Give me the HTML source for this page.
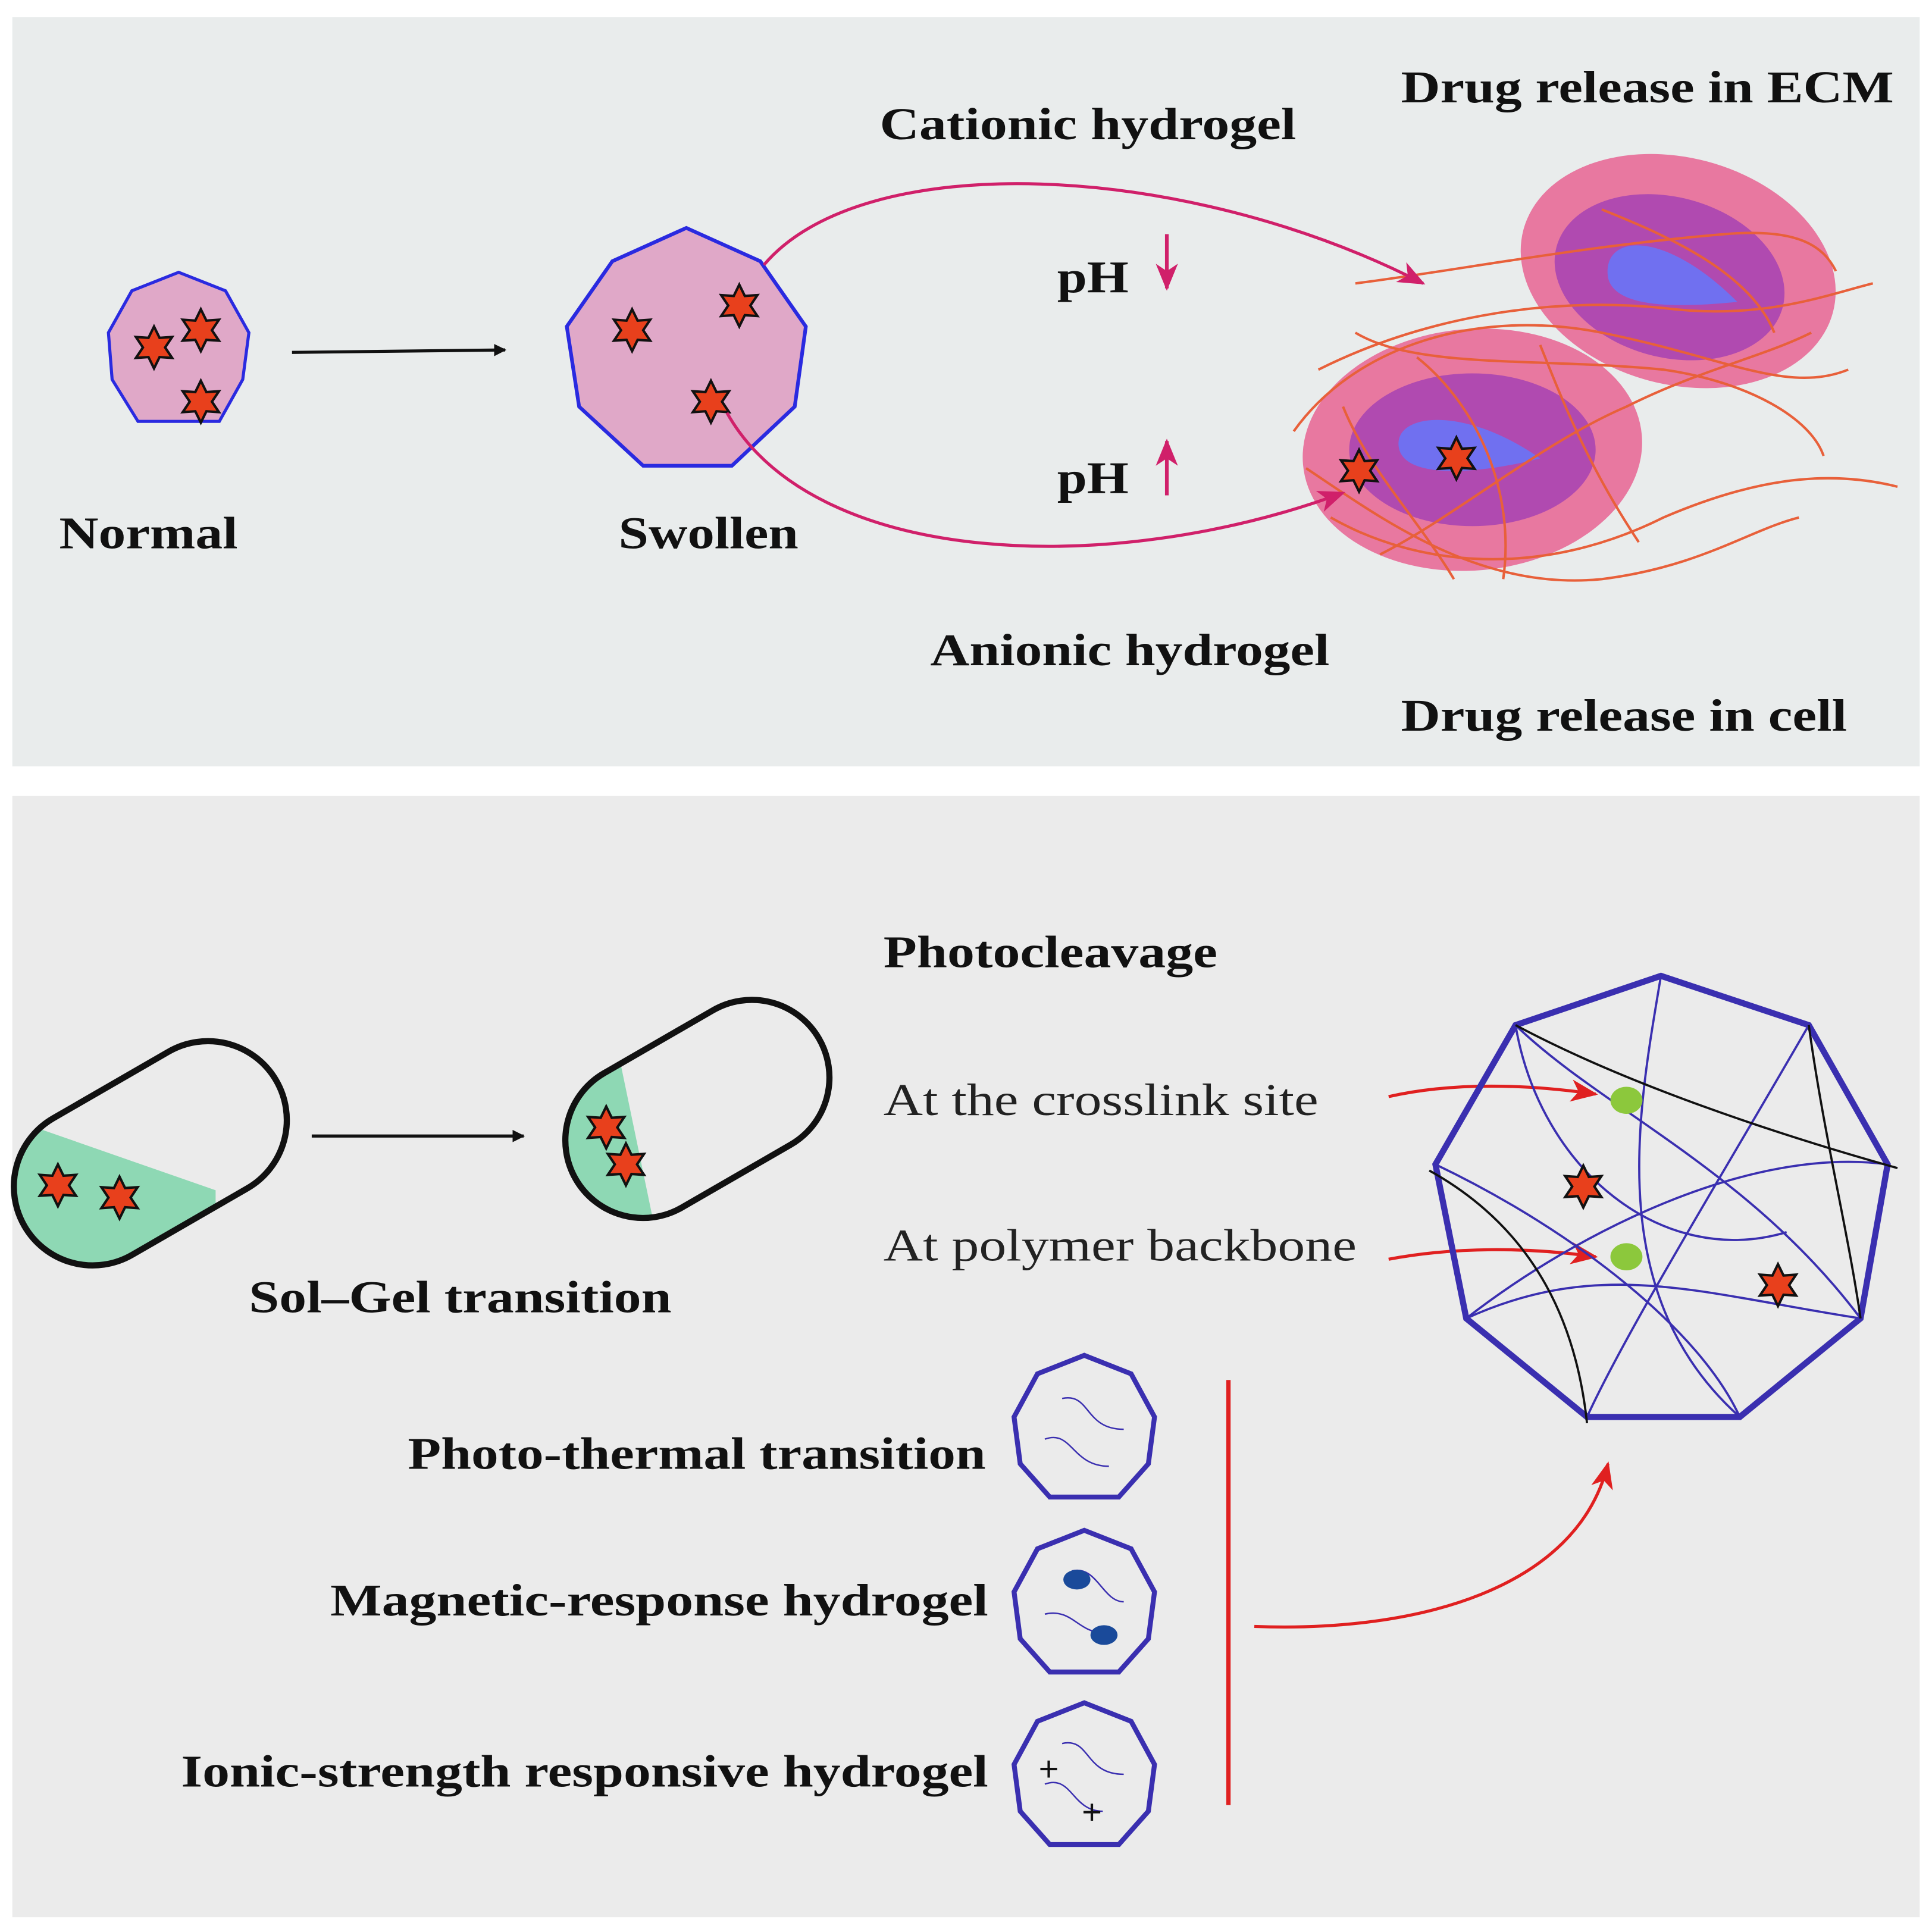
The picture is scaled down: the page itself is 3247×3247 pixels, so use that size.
<!DOCTYPE html>
<html><head><meta charset="utf-8"><style>html,body{margin:0;padding:0;background:#fff}svg{display:block}
.b{font-family:"Liberation Serif",serif;font-weight:bold;font-size:37px;fill:#111}
.n{font-family:"Liberation Serif",serif;font-size:37px;fill:#222}</style></head><body>
<svg width="3247" height="3247" viewBox="0 0 1568 1568" xmlns="http://www.w3.org/2000/svg">
<defs>
<symbol id="st" viewBox="-20 -20 40 40" overflow="visible">
<polygon points="0,-17 4.5,-7.8 14.7,-8.5 9,0 14.7,8.5 4.5,7.8 0,17 -4.5,7.8 -14.7,8.5 -9,0 -14.7,-8.5 -4.5,-7.8" fill="#e8401c" stroke="#111" stroke-width="2"/>
</symbol>
<marker id="ab" markerWidth="10" markerHeight="10" refX="9" refY="5" orient="auto" markerUnits="userSpaceOnUse" viewBox="0 0 10 10"><path d="M0,0L10,5L0,10z" fill="#111"/></marker>
<marker id="am" markerWidth="22" markerHeight="18" refX="20" refY="9" orient="auto" markerUnits="userSpaceOnUse"><path d="M0,0L22,9L0,18L6,9z" fill="#d0206a"/></marker>
<marker id="ar" markerWidth="22" markerHeight="18" refX="20" refY="9" orient="auto" markerUnits="userSpaceOnUse"><path d="M0,0L22,9L0,18L6,9z" fill="#e02020"/></marker>
<clipPath id="c1" clipPathUnits="userSpaceOnUse"><rect x="4" y="872" width="236" height="128" rx="64" transform="rotate(-30 122 936)"/></clipPath>
<clipPath id="c2" clipPathUnits="userSpaceOnUse"><rect x="452" y="837" width="228" height="126" rx="63" transform="rotate(-30 566 900)"/></clipPath>
</defs>
<rect x="10" y="14" width="1548" height="608" fill="#e9ecec"/>
<rect x="10" y="646" width="1548" height="910" fill="#ebebeb"/>

<!-- top -->
<polygon points="145,221 183,236 202,270 197,308 178,342 112,342 91,308 88,270 107,236" fill="#e0a8c8" stroke="#2a2ae0" stroke-width="2.5"/>
<use href="#st" x="105" y="262" width="40" height="40"/>
<use href="#st" x="143" y="248" width="40" height="40"/>
<use href="#st" x="143" y="306" width="40" height="40"/>
<line x1="237" y1="286" x2="410" y2="284" stroke="#111" stroke-width="2.5" marker-end="url(#ab)"/>
<polygon points="557,185 617,212 654,265 645,330 594,378 522,378 470,330 460,265 497,212" fill="#e0a8c8" stroke="#2a2ae0" stroke-width="3"/>
<use href="#st" x="493" y="248" width="40" height="40"/>
<use href="#st" x="580" y="228" width="40" height="40"/>
<use href="#st" x="557" y="306" width="40" height="40"/>
<text class="b" x="48" y="445" textLength="145" lengthAdjust="spacingAndGlyphs">Normal</text>
<text class="b" x="502" y="445" textLength="146" lengthAdjust="spacingAndGlyphs">Swollen</text>
<text class="b" x="714" y="113" textLength="338" lengthAdjust="spacingAndGlyphs">Cationic hydrogel</text>
<text class="b" x="1137" y="83" textLength="400" lengthAdjust="spacingAndGlyphs">Drug release in ECM</text>
<text class="b" x="858" y="237" textLength="58" lengthAdjust="spacingAndGlyphs">pH</text>
<text class="b" x="858" y="400" textLength="58" lengthAdjust="spacingAndGlyphs">pH</text>
<text class="b" x="755" y="540" textLength="324" lengthAdjust="spacingAndGlyphs">Anionic hydrogel</text>
<text class="b" x="1137" y="593" textLength="362" lengthAdjust="spacingAndGlyphs">Drug release in cell</text>
<line x1="947" y1="190" x2="947" y2="234" stroke="#d0206a" stroke-width="3" marker-end="url(#am)"/>
<line x1="947" y1="402" x2="947" y2="358" stroke="#d0206a" stroke-width="3" marker-end="url(#am)"/>
<!-- cells -->
<ellipse cx="1362" cy="220" rx="130" ry="92" fill="#e878a0" transform="rotate(15 1362 220)"/>
<ellipse cx="1355" cy="225" rx="95" ry="65" fill="#b04ab0" transform="rotate(15 1355 225)"/>
<path d="M1305,225 C1300,190 1350,185 1410,245 C1360,250 1310,250 1305,225z" fill="#7070f0"/>
<ellipse cx="1195" cy="365" rx="138" ry="98" fill="#e878a0" transform="rotate(-5 1195 365)"/>
<ellipse cx="1195" cy="365" rx="100" ry="62" fill="#b04ab0"/>
<path d="M1135,360 C1135,335 1190,330 1250,372 C1200,385 1135,390 1135,360z" fill="#7070f0"/>
<g fill="none" stroke="#e8603a" stroke-width="2">
<path d="M1050,350 C1100,280 1200,250 1300,270 C1400,290 1450,320 1500,300"/>
<path d="M1070,300 C1150,260 1250,240 1350,250 C1430,260 1480,240 1520,230"/>
<path d="M1100,230 C1180,220 1280,200 1400,190 C1460,185 1480,200 1490,220"/>
<path d="M1080,420 C1150,460 1250,470 1350,420 C1420,390 1480,380 1540,395"/>
<path d="M1060,380 C1120,420 1200,480 1300,470 C1380,460 1420,430 1460,420"/>
<path d="M1120,450 C1180,420 1250,360 1320,330 C1380,300 1430,290 1470,270"/>
<path d="M1150,290 C1200,330 1230,400 1220,470"/>
<path d="M1250,280 C1270,330 1290,380 1330,440"/>
<path d="M1100,270 C1150,300 1250,290 1350,300 C1420,310 1470,340 1480,370"/>
<path d="M1300,170 C1350,190 1420,220 1440,270"/>
<path d="M1090,330 C1110,380 1150,420 1180,470"/>
</g>
<path d="M620,215 C700,120 960,130 1155,230" fill="none" stroke="#d0206a" stroke-width="2.5" marker-end="url(#am)"/>
<path d="M590,335 C660,460 900,470 1090,400" fill="none" stroke="#d0206a" stroke-width="2.5" marker-end="url(#am)"/>
<use href="#st" x="1083" y="362" width="40" height="40"/>
<use href="#st" x="1162" y="352" width="40" height="40"/>

<!-- bottom -->
<polygon points="0,905 175,966 175,1050 0,1050" fill="#8ed8b4" clip-path="url(#c1)"/>
<rect x="4" y="872" width="236" height="128" rx="64" fill="none" stroke="#111" stroke-width="5" transform="rotate(-30 122 936)"/>
<use href="#st" x="27" y="942" width="40" height="40"/>
<use href="#st" x="77" y="952" width="40" height="40"/>
<line x1="253" y1="922" x2="425" y2="922" stroke="#111" stroke-width="2.5" marker-end="url(#ab)"/>
<polygon points="440,840 503,860 530,990 440,1000" fill="#8ed8b4" clip-path="url(#c2)"/>
<rect x="452" y="837" width="228" height="126" rx="63" fill="none" stroke="#111" stroke-width="5" transform="rotate(-30 566 900)"/>
<use href="#st" x="472" y="895" width="40" height="40"/>
<use href="#st" x="488" y="925" width="40" height="40"/>
<text class="b" x="202" y="1065" textLength="343" lengthAdjust="spacingAndGlyphs">Sol–Gel transition</text>
<text class="b" x="717" y="785" textLength="271" lengthAdjust="spacingAndGlyphs">Photocleavage</text>
<text class="n" x="717" y="905" textLength="353" lengthAdjust="spacingAndGlyphs">At the crosslink site</text>
<text class="n" x="717" y="1023" textLength="384" lengthAdjust="spacingAndGlyphs">At polymer backbone</text>
<path d="M1127,890 C1180,878 1240,880 1295,888" fill="none" stroke="#e02020" stroke-width="2.5" marker-end="url(#ar)"/>
<path d="M1127,1022 C1180,1012 1240,1012 1295,1020" fill="none" stroke="#e02020" stroke-width="2.5" marker-end="url(#ar)"/>
<!-- big polygon -->
<polygon points="1348,792 1468,832 1532,945 1510,1070 1412,1150 1288,1150 1190,1070 1165,945 1230,832" fill="none" stroke="#3a2fb0" stroke-width="5"/>
<g fill="none" stroke="#3a2fb0" stroke-width="1.8">
<path d="M1230,832 C1300,900 1420,950 1510,1070"/>
<path d="M1348,792 C1330,900 1300,1050 1412,1150"/>
<path d="M1190,1070 C1280,1000 1420,930 1532,945"/>
<path d="M1165,945 C1280,1000 1380,1080 1412,1150"/>
<path d="M1468,832 C1400,950 1320,1080 1288,1150"/>
<path d="M1230,832 C1250,950 1350,1030 1450,1000"/>
<path d="M1190,1070 C1300,1020 1380,1050 1510,1070"/>
</g>
<g fill="none" stroke="#111" stroke-width="1.8">
<path d="M1230,832 C1320,880 1440,920 1540,948"/>
<path d="M1160,950 C1250,1000 1280,1080 1288,1155"/>
<path d="M1468,832 C1480,920 1500,1000 1510,1070"/>
</g>
<ellipse cx="1320" cy="893" rx="13" ry="11" fill="#8cc83c"/>
<ellipse cx="1320" cy="1020" rx="13" ry="11" fill="#8cc83c"/>
<use href="#st" x="1265" y="943" width="40" height="40"/>
<use href="#st" x="1423" y="1023" width="40" height="40"/>
<!-- small polygons -->
<g fill="none" stroke="#3a2fb0" stroke-width="4">
<polygon points="880,1100 918,1115 937,1150 932,1188 908,1215 852,1215 828,1188 823,1150 842,1115"/>
<polygon points="880,1242 918,1257 937,1292 932,1330 908,1357 852,1357 828,1330 823,1292 842,1257"/>
<polygon points="880,1382 918,1397 937,1432 932,1470 908,1497 852,1497 828,1470 823,1432 842,1397"/>
</g>
<g fill="none" stroke="#3a2fb0" stroke-width="1.2">
<path d="M862,1135 C885,1130 880,1160 912,1160"/><path d="M848,1168 C870,1160 870,1190 900,1190"/>
<path d="M870,1275 C890,1270 895,1300 912,1300"/><path d="M848,1310 C870,1305 875,1325 895,1325"/>
<path d="M862,1415 C885,1410 880,1440 912,1440"/><path d="M848,1448 C870,1440 870,1470 895,1470"/>
</g>
<ellipse cx="874" cy="1282" rx="11" ry="8" fill="#1a4a9a"/>
<ellipse cx="896" cy="1327" rx="11" ry="8" fill="#1a4a9a"/>
<text x="843" y="1445" font-family="Liberation Sans,sans-serif" font-size="28" fill="#111">+</text>
<text x="878" y="1480" font-family="Liberation Sans,sans-serif" font-size="28" fill="#111">+</text>
<text class="b" x="331" y="1192" textLength="469" lengthAdjust="spacingAndGlyphs">Photo-thermal transition</text>
<text class="b" x="268" y="1311" textLength="534" lengthAdjust="spacingAndGlyphs">Magnetic-response hydrogel</text>
<text class="b" x="147" y="1450" textLength="655" lengthAdjust="spacingAndGlyphs">Ionic-strength responsive hydrogel</text>
<line x1="997" y1="1120" x2="997" y2="1465" stroke="#e02020" stroke-width="3.5"/>
<path d="M1018,1320 C1150,1325 1280,1290 1305,1188" fill="none" stroke="#e02020" stroke-width="2.5" marker-end="url(#ar)"/>
</svg>
</body></html>
